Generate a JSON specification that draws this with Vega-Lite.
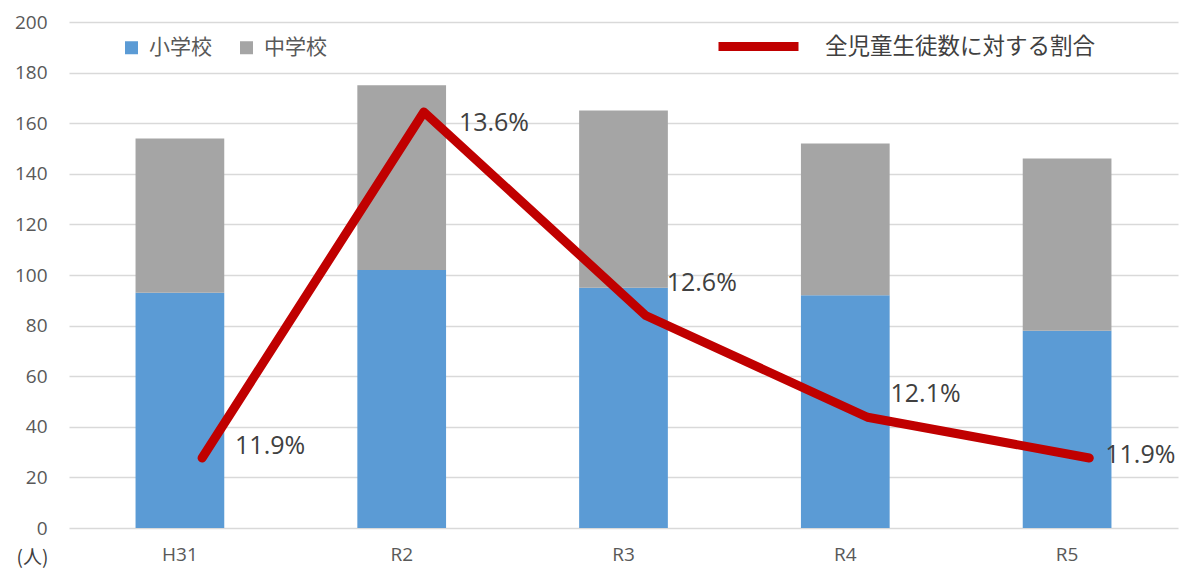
{
  "$schema": "https://vega.github.io/schema/vega-lite/v6.json",
  "autosize": {"type": "none"},
  "width": 1109,
  "height": 506,
  "padding": {"left": 69, "top": 22, "right": 15, "bottom": 47},
  "background": "white",
  "config": {
    "view": {"stroke": null},
    "font": "Open Sans"
  },
  "datasets": {
    "bars": [
      {"年度": "H31", "区分": "小学校", "人数": 93},
      {"年度": "H31", "区分": "中学校", "人数": 61},
      {"年度": "R2", "区分": "小学校", "人数": 102},
      {"年度": "R2", "区分": "中学校", "人数": 73},
      {"年度": "R3", "区分": "小学校", "人数": 95},
      {"年度": "R3", "区分": "中学校", "人数": 70},
      {"年度": "R4", "区分": "小学校", "人数": 92},
      {"年度": "R4", "区分": "中学校", "人数": 60},
      {"年度": "R5", "区分": "小学校", "人数": 78},
      {"年度": "R5", "区分": "中学校", "人数": 68}
    ],
    "rate": [
      {"年度": "H31", "割合": 0.119},
      {"年度": "R2", "割合": 0.136},
      {"年度": "R3", "割合": 0.126},
      {"年度": "R4", "割合": 0.121},
      {"年度": "R5", "割合": 0.119}
    ]
  },
  "layer": [
    {
      "data": {"name": "bars"},
      "mark": {"type": "bar"},
      "encoding": {
        "x": {
          "field": "年度", "type": "nominal", "sort": ["H31", "R2", "R3", "R4", "R5"],
          "scale": {"paddingInner": 0.6, "paddingOuter": 0.3},
          "axis": {"title": null, "labelAngle": 0, "domain": false, "ticks": false, "tickSize": 0,
                   "labelPadding": 17, "labelFontSize": 19, "labelColor": "#595959", "labelFont": "Open Sans"}
        },
        "y": {
          "field": "人数", "type": "quantitative", "stack": "zero",
          "scale": {"domain": [0, 200], "nice": false},
          "axis": {"values": [0, 20, 40, 60, 80, 100, 120, 140, 160, 180, 200],
                   "domain": false, "ticks": false, "tickSize": 0, "labelPadding": 22,
                   "labelFontSize": 19, "labelColor": "#595959", "labelFont": "Open Sans",
                   "gridColor": "#d9d9d9", "gridWidth": 1.5,
                   "title": "(人)", "titleAngle": 0, "titleX": -37, "titleY": 535,
                   "titleAlign": "center", "titleBaseline": "middle", "titleFontSize": 19,
                   "titleFontWeight": "normal", "titleColor": "#404040", "titleFont": "Noto Sans CJK JP"}
        },
        "color": {
          "field": "区分", "type": "nominal", "sort": ["小学校", "中学校"],
          "scale": {"domain": ["小学校", "中学校"], "range": ["#5b9bd5", "#a5a5a5"]},
          "legend": {"title": null, "orient": "none", "legendX": 52, "legendY": 15, "direction": "horizontal",
                     "symbolType": "square", "symbolSize": 169, "symbolStrokeWidth": 0,
                     "labelFontSize": 21, "labelColor": "#595959", "labelFont": "Noto Sans CJK JP",
                     "labelOffset": 7, "columnPadding": 24}
        },
        "order": {"field": "区分", "sort": "descending"}
      }
    },
    {
      "data": {"name": "rate"},
      "encoding": {
        "x": {"field": "年度", "type": "nominal", "sort": ["H31", "R2", "R3", "R4", "R5"], "bandPosition": 0.75},
        "y": {"field": "割合", "type": "quantitative", "scale": {"domain": [0.11556, 0.14042], "nice": false, "zero": false}, "axis": null}
      },
      "layer": [
        {
          "mark": {"type": "line", "strokeWidth": 9, "strokeCap": "round", "strokeJoin": "round"},
          "encoding": {
            "stroke": {
              "datum": "全児童生徒数に対する割合",
              "scale": {"range": ["#c00000"]},
              "legend": {"title": null, "orient": "none", "legendX": 645, "legendY": -20,
                         "symbolType": "stroke", "symbolSize": 6400, "symbolStrokeWidth": 9,
                         "labelFontSize": 22.5, "labelColor": "#404040", "labelFont": "Noto Sans CJK JP",
                         "labelOffset": 22, "labelLimit": 500}
            }
          }
        },
        {
          "transform": [{"filter": "datum['年度'] == 'H31'"}],
          "mark": {"type": "text", "align": "left", "baseline": "middle", "dx": 33, "dy": -12, "fontSize": 25, "color": "#404040"},
          "encoding": {"text": {"field": "割合", "type": "quantitative", "format": ".1%"}}
        },
        {
          "transform": [{"filter": "datum['年度'] == 'R2'"}],
          "mark": {"type": "text", "align": "left", "baseline": "middle", "dx": 35, "dy": 11, "fontSize": 25, "color": "#404040"},
          "encoding": {"text": {"field": "割合", "type": "quantitative", "format": ".1%"}}
        },
        {
          "transform": [{"filter": "datum['年度'] == 'R3'"}],
          "mark": {"type": "text", "align": "left", "baseline": "middle", "dx": 21, "dy": -33, "fontSize": 25, "color": "#404040"},
          "encoding": {"text": {"field": "割合", "type": "quantitative", "format": ".1%"}}
        },
        {
          "transform": [{"filter": "datum['年度'] == 'R4'"}],
          "mark": {"type": "text", "align": "left", "baseline": "middle", "dx": 23, "dy": -23, "fontSize": 25, "color": "#404040"},
          "encoding": {"text": {"field": "割合", "type": "quantitative", "format": ".1%"}}
        },
        {
          "transform": [{"filter": "datum['年度'] == 'R5'"}],
          "mark": {"type": "text", "align": "left", "baseline": "middle", "dx": 16, "dy": -3, "fontSize": 25, "color": "#404040"},
          "encoding": {"text": {"field": "割合", "type": "quantitative", "format": ".1%"}}
        }
      ]
    }
  ],
  "resolve": {"scale": {"y": "independent"}}
}
